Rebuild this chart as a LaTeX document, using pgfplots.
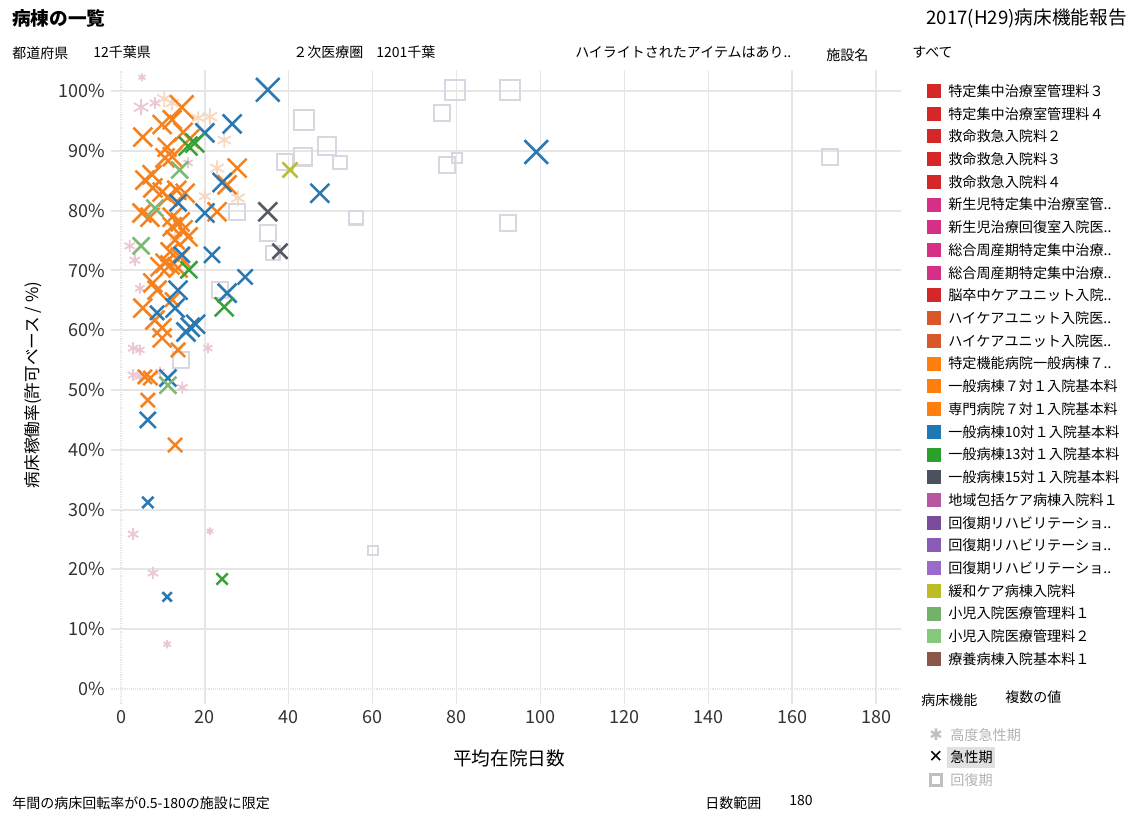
\documentclass[border=0pt]{standalone}
\usepackage{fontspec}
\setmainfont{Noto Sans CJK JP}
\newfontfamily\djv{DejaVu Sans}
\usepackage{pgfplots}
\pgfplotsset{compat=1.18}
\definecolor{cRed}{HTML}{D62728}
\definecolor{cMag}{HTML}{D62F86}
\definecolor{cHcu}{HTML}{D9582A}
\definecolor{cOra}{HTML}{FF7F0E}
\definecolor{cBlu}{HTML}{1F77B4}
\definecolor{cGrn}{HTML}{2CA02C}
\definecolor{cDrk}{HTML}{4B525E}
\definecolor{cChi}{HTML}{B5589F}
\definecolor{cPu1}{HTML}{7B4C9C}
\definecolor{cPu2}{HTML}{8B5CB5}
\definecolor{cPu3}{HTML}{9C6ACB}
\definecolor{cOli}{HTML}{BCBD22}
\definecolor{cSg1}{HTML}{74B26A}
\definecolor{cSg2}{HTML}{86C97C}
\definecolor{cBrn}{HTML}{8C564B}
\definecolor{mOra}{HTML}{F5821F}
\definecolor{mBlu}{HTML}{2A79B3}
\definecolor{mGrn}{HTML}{38A23A}
\definecolor{mSg}{HTML}{7DB877}
\definecolor{mDrk}{HTML}{555A62}
\definecolor{mOli}{HTML}{B9BD30}
\definecolor{aPnk}{HTML}{ECC8D5}
\definecolor{aPch}{HTML}{F6D9C0}
\definecolor{sq}{HTML}{DAD6E1}
\definecolor{sqp}{HTML}{E2D3DF}
\definecolor{gridc}{HTML}{E6E6E6}
\definecolor{txt}{HTML}{333333}
\pgfplotsset{
  sz/.style={scatter, only marks, color=#1,
    scatter/use mapped color={draw=#1,fill=none},
    visualization depends on={\thisrow{s}\as\ms},
    scatter/@pre marker code/.append style={/tikz/mark size=\ms}},
}
\begin{document}
\begin{tikzpicture}
\useasboundingbox (0,0) rectangle (849.75pt,611.25pt);
\begin{axis}[
  at={(82.89pt,83.29pt)}, anchor=south west,
  scale only axis, width=593.0pt, height=475.4pt,
  xmin=-2.5, xmax=186, ymin=-2.5, ymax=103.5,
  axis line style={draw=none}, major tick length=0pt,
  xtick={20,40,...,180}, ytick={10,20,...,100},
  extra x ticks={0}, extra x tick labels={0},
  extra y ticks={0}, extra y tick labels={0\%},
  extra tick style={grid=major, grid style={densely dotted, color=black!35, line width=0.6pt}},
  yticklabel={\pgfmathprintnumber{\tick}\%},
  grid=major,
  x grid style={gridc, line width=1.0pt},
  y grid style={gridc, line width=1.5pt},
  /pgf/number format/assume math mode=true,
  tick label style={font=\fontsize{13.5}{15}\selectfont, text=txt},
  yticklabel style={anchor=east, inner sep=0pt, xshift=-4pt},
  xticklabel style={anchor=north, inner sep=0pt, yshift=-5pt},
]
% 回復期 squares
\addplot[sz=sq, mark=square, mark options={line width=1.6pt}] table {
x y s
79.6 100.2 7.5
92.7 100.2 7.5
76.5 96.3 6
43.6 95.2 7.5
49.1 90.8 6.5
43.4 89.0 6.5
52.2 88.0 5
39.1 88.1 6
77.7 87.6 6
80.1 88.8 4
169.0 89.0 6
56.0 78.8 5
92.3 77.9 6
27.7 79.8 6
35.0 76.3 6
36.2 72.9 5
14.3 55.0 6
60.1 23.2 3.5
};
\addplot[sz=sqp, mark=square, mark options={line width=1.6pt}] table {
x y s
23.6 66.7 6
};
% 高度急性期 asterisks
\addplot[sz=aPnk, mark=asterisk, mark options={line width=1.4pt}] table {
x y s
4.8 97.3 6.2
8.1 98.0 4.5
5.0 102.3 3
16.0 88.0 4
2.1 74.1 4.5
3.3 71.7 4.5
4.5 67.0 4
2.9 57.0 4.5
4.5 56.7 4
2.9 52.5 4.5
4.5 52.3 4.5
9.3 53.0 4
14.6 50.4 4.5
20.7 57.0 4
2.9 25.9 4.5
21.2 26.4 2.8
7.6 19.4 4.5
11.0 7.5 3.2
};
\addplot[sz=aPch, mark=asterisk, mark options={line width=1.4pt}] table {
x y s
10.3 98.7 6.2
12.2 98.0 5.5
21.2 95.7 6.2
18.4 95.5 5
24.6 91.8 5.8
22.9 87.1 5.8
27.9 82.1 5.8
20.0 82.4 5
12.9 75.6 4.5
};
% 急性期 crosses
\addplot[sz=mOra, mark=x, mark options={line width=1.9pt}] table {
x y s
14.5 97.3 12.5
9.8 94.4 10
12.2 95.2 10
5.2 92.3 10
14.8 93.1 10
11.0 90.6 10
16.4 92.0 10
10.5 88.8 10
12.2 89.0 10
27.7 87.1 10
25.3 84.3 10
7.4 86.0 10
5.7 85.1 10
7.6 83.8 10
9.8 83.1 10
11.2 82.3 10
13.3 83.4 10
15.3 82.9 10
5.0 79.6 10
6.9 78.9 10
12.2 78.9 10
14.1 78.1 10
22.9 79.8 10
12.2 77.3 10
14.8 76.8 10
12.9 75.1 10
16.0 75.6 10
11.7 73.1 10
14.1 72.2 10
10.5 71.2 10
9.3 70.6 10
11.7 70.9 10
13.6 70.4 10
7.6 67.9 10
8.6 66.7 10
12.2 65.1 7.5
5.2 63.7 10
8.1 61.7 10
9.8 60.4 10
9.8 58.7 10
13.6 56.7 7.5
5.7 52.2 7.5
7.0 52.0 7.5
6.4 48.3 7.5
12.9 40.8 7.5
};
\addplot[sz=mBlu, mark=x, mark options={line width=1.9pt}] table {
x y s
35.0 100.2 12.5
99.0 89.8 12.5
26.5 94.5 10
20.0 93.0 10
24.1 84.7 10
47.4 82.9 10
20.0 79.6 10
13.6 81.3 9
21.7 72.6 8.5
14.5 72.6 8.5
29.6 68.9 8
25.3 66.2 10
13.6 66.7 10
12.9 63.7 10
8.6 62.9 7.5
15.5 59.7 10
16.5 60.5 10
17.8 61.0 10
11.2 52.0 9
6.4 45.0 8.5
6.4 31.2 6
11.0 15.4 5
};
\addplot[sz=mGrn, mark=x, mark options={line width=1.9pt}] table {
x y s
17.6 91.3 10
16.0 90.8 10
16.2 70.1 9
24.6 63.9 10
24.1 18.4 6
};
\addplot[sz=mSg, mark=x, mark options={line width=1.9pt}] table {
x y s
4.8 74.1 9
8.1 80.4 9
14.0 86.8 9
11.2 50.8 9
};
\addplot[sz=mDrk, mark=x, mark options={line width=1.9pt}] table {
x y s
35.0 79.8 10
37.9 73.2 8
};
\addplot[sz=mOli, mark=x, mark options={line width=1.9pt}] table {
x y s
40.3 86.8 8
};
\end{axis}
\begin{scope}[x=0.75pt, y=-0.75pt, shift={(0pt,611.25pt)}]
\node[anchor=west, inner sep=0pt, font=\fontsize{14}{16}\bfseries] at (12,18) {病棟の一覧};
\node[anchor=east, inner sep=0pt, font=\fontsize{14}{16}\selectfont] at (1127,18) {2017(H29)病床機能報告};
\begin{scope}[every node/.style={anchor=west, inner sep=0pt, font=\fontsize{10.5}{12}\selectfont}]
\node at (12,53) {都道府県};
\node at (93,52) {12千葉県};
\node at (293,52) {２次医療圏};
\node at (376,52) {1201千葉};
\node at (575,52) {ハイライトされたアイテムはあり..};
\node at (826,55) {施設名};
\node at (912,52) {すべて};
\node at (12,803) {年間の病床回転率が0.5-180の施設に限定};
\node at (705,803) {日数範囲};
\node at (789,801) {180};
\node at (921,700) {病床機能};
\node at (1005,697) {複数の値};
\end{scope}
\node[rotate=90, inner sep=0pt, font=\fontsize{12.5}{14}\selectfont] at (33,385) {病床稼働率(許可ベース / \%)};
\node[inner sep=0pt, font=\fontsize{14}{16}\selectfont] at (509,758) {平均在院日数};
% legend
\begin{scope}[every node/.style={anchor=west, inner sep=0pt, font=\fontsize{10.6}{12}\selectfont}]
\foreach \c/\t [count=\i from 0] in {
cRed/特定集中治療室管理料３, cRed/特定集中治療室管理料４, cRed/救命救急入院料２, cRed/救命救急入院料３, cRed/救命救急入院料４,
cMag/新生児特定集中治療室管.., cMag/新生児治療回復室入院医.., cMag/総合周産期特定集中治療.., cMag/総合周産期特定集中治療..,
cRed/脳卒中ケアユニット入院.., cHcu/ハイケアユニット入院医.., cHcu/ハイケアユニット入院医.., cOra/特定機能病院一般病棟７..,
cOra/一般病棟７対１入院基本料, cOra/専門病院７対１入院基本料, cBlu/一般病棟10対１入院基本料, cGrn/一般病棟13対１入院基本料,
cDrk/一般病棟15対１入院基本料, cChi/地域包括ケア病棟入院料１, cPu1/回復期リハビリテーショ.., cPu2/回復期リハビリテーショ..,
cPu3/回復期リハビリテーショ.., cOli/緩和ケア病棟入院料, cSg1/小児入院医療管理料１, cSg2/小児入院医療管理料２, cBrn/療養病棟入院基本料１}
{
  \pgfmathsetmacro{\yy}{91+22.72*\i}
  \fill[\c] (927,\yy-7) rectangle (941,\yy+7);
  \node at (948,\yy) {\t};
}
\fill[black!12] (947,747) rectangle (995,768);
\node[text=black!30] at (950,735) {高度急性期};
\node at (950,757) {急性期};
\node[text=black!30] at (950,780) {回復期};
\node[anchor=center, text=black!25, font=\djv\fontsize{12}{12}\bfseries] at (936,735) {✱};
\node[anchor=center, font=\djv\fontsize{13}{13}\bfseries] at (936,757) {✕};
\end{scope}
\draw[black!25, line width=1.6pt] (930.5,774.5) rectangle (941.5,785.5);
\end{scope}
\end{tikzpicture}
\end{document}
